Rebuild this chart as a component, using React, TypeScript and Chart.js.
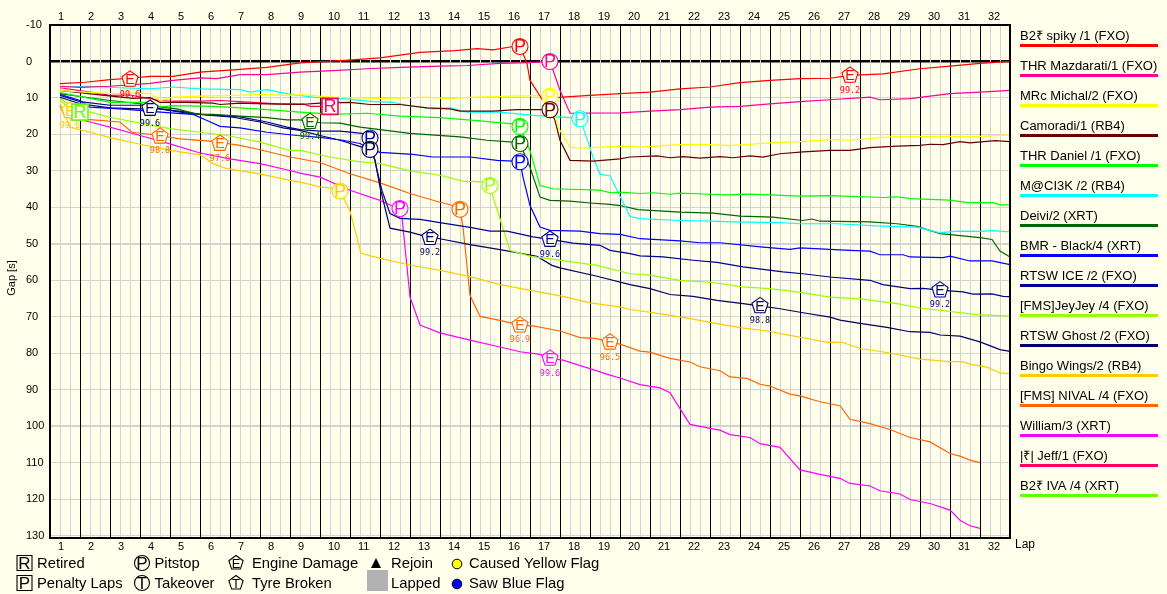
import React, { useEffect, useRef } from "react";
import Chart from "chart.js/auto";

type Pt = [number, number];

// x = race sector (three per lap, lap n ends at sector 3n), y = gap to leader [s]
const spiky: Pt[] = [[1,6.1],[3.5,5.7],[6,5],[8,4.6],[10,4.1],[12.3,4.1],[15,2.9],[18.3,2.3],[21.7,1.6],[25,0.4],[29.5,-0.3],[33,-1],[37,-2.5],[40.5,-3],[42.7,-3.5],[44.3,-3.2],[46.3,-4.1],[47,-4.1],[47.7,0.5],[48,5.2],[49.2,10.3],[51.2,9.8],[54,9.3],[57,8.8],[60,8.4],[63,7.5],[66,7],[69,5.8],[72,5.2],[75,4.7],[78,4.6],[80,3.8],[83.3,3.4],[87,2],[90,1.3],[93,0.5],[96,0]];
const mazdarati: Pt[] = [[1,6.8],[3,7.1],[6,6.8],[10,6],[12.3,5.2],[15,4.5],[16.7,4.7],[19,3.6],[21.7,3.6],[25,2.9],[28.3,2.5],[31.7,2],[35,1.6],[39,1.3],[41.7,1.1],[45,0.5],[48,0.3],[50,0],[51,7.9],[52,14.2],[57,14.1],[60,13.6],[63,13.2],[66,12.5],[69,12.3],[72,11.6],[75,11],[78,10.5],[82,9.8],[83,10.5],[86,10.2],[90,8.8],[93,8.4],[96,7.9]];
const michal: Pt[] = [[1,8],[6,8.8],[8.3,8.7],[10,8.8],[11,10.7],[12.3,9.8],[15,9.5],[18.3,9.3],[21.7,9],[23.3,9.3],[25,9.1],[28.3,9.8],[33,10.2],[37.7,9.8],[40,10.2],[42.3,9.8],[46.3,9.5],[50,9.3],[50.8,18],[52,23.5],[53,23.8],[55,23.5],[58,23.2],[59,23.5],[63,22.8],[66,22.8],[68,23.1],[72,22.3],[75,22],[78.3,21.4],[80,21.6],[84,20.7],[90,20.5],[92,20.7],[96,20.1]];
const camoradi: Pt[] = [[1,7.9],[4.5,9],[8.3,10.1],[10,9.9],[11,11.2],[13.7,11.2],[16.3,11.4],[17,11.8],[19,11.4],[21.7,11.6],[25,11.8],[27,11.4],[30,11.2],[32,11.8],[35,11.8],[37.7,12.7],[40,13],[41,13.6],[44.3,13.6],[46.7,13.2],[50,13.2],[50.5,16.2],[51,21.6],[52,27.1],[54.3,27.3],[57,26.7],[58,26.2],[60.7,25.9],[62,26.4],[63.3,26.1],[65,26.5],[67,26.1],[68.3,26.4],[70,25.9],[71.3,26.2],[73,25.3],[75.3,24.8],[78,24.4],[80,24.4],[82,23.6],[84.7,23.2],[87,23],[88,22.7],[89.3,22.8],[91,22],[92,22.3],[94.5,21.7],[96,22]];
const daniel: Pt[] = [[1,8.5],[6,11.2],[10,11.2],[11,12.5],[12.3,12.1],[16.3,12.3],[19,12.7],[21.7,13.2],[25,13.9],[28.3,14.5],[31.7,14.2],[35,15],[39,15.4],[42.7,16.2],[46.3,17.1],[47,17.8],[48,24.4],[49,34],[50.3,34.9],[55,35.3],[56,36],[57,35.8],[59,36.2],[60.3,36],[62,36.4],[63,36.1],[66,36.4],[67.7,36.6],[69.7,36.4],[72,36.6],[75,36.9],[78,36.8],[83.3,37.3],[84.7,37.1],[86,37.6],[90,38],[91.8,38.7],[94.3,38.7],[95,39.3],[96,39.3]];
const maci3k: Pt[] = [[1,7],[4,6.8],[7,7.2],[10,7.5],[12.3,7],[15,7.5],[19,7.7],[20,8.4],[21.7,7.7],[23.7,8.8],[25,9.3],[26.3,9.8],[29.3,10.2],[32.3,11],[34.3,11.2],[35.7,12],[38.3,13],[40,12.7],[41.7,13.9],[45,13.9],[48.3,14.8],[52,15.4],[53,15.6],[53.3,18],[54.3,26.2],[55,30.9],[56,31.4],[58,42.5],[59,43.1],[63,43.6],[66,43.8],[68.3,44],[73,44.2],[75,44.5],[78.7,44.5],[82.5,45.1],[86.7,45.4],[89,47],[90.7,46.5],[93,46.6],[94.2,46.4],[96,46.7]];
const deivi: Pt[] = [[1,8.8],[3,9.6],[6,10.7],[9,11.6],[11,12.5],[12.7,13],[14.7,14.5],[16.3,14.5],[19,15],[21.7,15.4],[23.7,16],[25,16],[26,16.5],[27,16.8],[29,16.9],[31,18],[33,18.7],[36,19.7],[41,20.7],[43.7,21.6],[46.3,22.1],[47,22.5],[48,29],[49,37.2],[50,38.1],[52,38.3],[54,38.8],[56,39.2],[57,39.5],[58.8,40.6],[63,41.3],[66.3,41.6],[69,42.4],[72.3,42.7],[75.3,43.6],[76.2,43.2],[77,43.8],[82,44],[84.7,44.5],[86.7,45.2],[89,47.2],[90,47.5],[93,48.3],[94.2,48.8],[95,52],[96,53.6]];
const bmrBlack: Pt[] = [[1,9],[3,10.7],[4,12.5],[7,13],[11.7,14],[14.3,14.5],[15.7,16.2],[17,17.8],[19,18.2],[21.7,19.4],[24.7,20.3],[27,20.8],[29.3,21.6],[31,22.5],[32,23.9],[33,24.9],[36.3,25.5],[38.3,26.2],[42,26.2],[44.7,27.1],[46.3,27.3],[47,27.5],[47.3,31.7],[48,39.5],[49,45.4],[50,46.3],[53,46.5],[55,47.2],[57,47.4],[59,48.6],[63,49.2],[65,49.7],[67,49.7],[71.3,50.9],[74,51.5],[75,51.1],[80,51.8],[82,52],[83,53],[85.3,53],[86,53.6],[89.3,53.8],[90,53.4],[92,54.7],[94.2,54.7],[96,55.7]];
const rtswIce: Pt[] = [[1,9.3],[3,11],[6,12],[9.3,12],[11,13],[14,14.3],[19,15.2],[21.7,16.6],[23.7,18],[25,18.7],[27,19.1],[29,19.1],[31.2,19.7],[32,21],[32.7,29.8],[33.2,35.4],[34,41.7],[35,43],[37,43.3],[39.3,44.3],[42,45.5],[44,46.5],[45.7,46.5],[48.3,48.1],[50,48.8],[52.3,49.8],[55,50.4],[56,51.8],[58,52.7],[59,53.3],[61.3,53.6],[64.3,54.5],[66.7,55.1],[69.3,56.3],[71.3,57],[73.3,57.7],[75.3,58.2],[78,59.1],[82,60],[83.3,61.2],[86,62.3],[87.3,62.2],[89,62.7],[91.3,63.2],[92.3,63.8],[94.2,63.7],[95.3,64.4],[96,64.5]];
const jeyJey: Pt[] = [[1,10.7],[2,12.9],[4,13.9],[6,15.3],[9,16.9],[12,18.4],[15,19.4],[17.7,20.3],[21,22.1],[24,24.4],[25,24.4],[28,26.2],[30.7,27.4],[33,28],[36,30],[39,31.2],[41.3,32.8],[43.3,33],[44,34],[44.2,36.2],[46,51.8],[48.3,53.6],[49.7,54],[54.7,55.9],[58,58.2],[60,58.6],[63,60],[66.3,60.6],[69.3,61.8],[72,62.3],[74.7,63.2],[78,64.6],[81,65.1],[84.7,66.4],[87,67.6],[92.7,69.4],[96,69.8]];
const rtswGhost: Pt[] = [[1,9.8],[3,11.6],[6,12.7],[9,13],[11,13],[13.7,13.9],[15,14.5],[18.3,15.3],[21,16.6],[23.3,18.2],[25,18.9],[27,20.3],[29,21.6],[31.2,23.5],[32,24.1],[32.5,27],[33,34.5],[34,45.7],[36,46.8],[38,48.3],[39,48.6],[42,50.2],[45,51.6],[48.7,53.4],[50.2,55.9],[51,56.6],[54.7,58.9],[58,61.2],[60,62.3],[62,63.9],[64.3,64.4],[66.7,65.5],[69.3,66.4],[71,67],[73,67.8],[75.3,68.9],[78,70.1],[79,70.9],[81,71.8],[83.7,72.9],[86,74.1],[88,74.3],[89,75],[91,75.3],[93,76.9],[95,79],[96,79.5]];
const bingoWings: Pt[] = [[1,11.5],[1.5,14.8],[2,18],[4,19.4],[6,20.9],[9,22.7],[12,24.4],[15,25.6],[16.3,28],[17.7,29.4],[21,30.8],[24,32.6],[25,33.1],[27,34.4],[28.7,34.9],[29,35.5],[30,41],[31.1,52.6],[33,54],[36,55.8],[39,57.3],[42,59],[45,61.2],[48.3,62.9],[51.3,64.4],[54,66.2],[57,67.3],[58,68],[61.3,69.3],[64,70.5],[67,72],[69,73],[71.7,73.9],[74,75.1],[76,76.1],[77.7,77],[79.2,77],[81,78.7],[83.7,79.8],[87,81.6],[90,82.3],[91.2,82.3],[92,83],[93.7,83.8],[95,85.4],[96,85.6]];
const nival: Pt[] = [[1,12],[1.5,15.3],[3.7,15.9],[7,16.6],[8.2,19.4],[11,20.3],[13,21.2],[16.3,21.9],[19,23],[21,24.2],[24,26.2],[27,27.7],[30,30.8],[33,33.3],[36,36.2],[39,38.6],[40.3,39.5],[41,40.5],[41.3,45.4],[42,64.1],[43,69.9],[45,71],[47,72.3],[48.3,72.5],[51,73.9],[53,75.7],[54.7,76],[56,77],[57,77.5],[59,79.4],[60,79.7],[62,81.4],[64,82.4],[65,83.7],[67,84.8],[68,86.5],[69.7,86.9],[71,88.5],[72,89],[74,91.2],[75,91.7],[77,93.3],[79,94.4],[80,98.1],[82,99.3],[84,100.9],[86,103.1],[88,104.3],[90,107.5],[91,108.2],[92,109.3],[93,110]];
const william: Pt[] = [[1,12.1],[2,15.3],[4,16.6],[6,18],[9,20.3],[12,22.6],[15,25.1],[18,26.7],[21,28],[24,29.9],[25,30.6],[27,31.7],[30,35.3],[33,38.1],[34.3,39.7],[35,40.4],[35.2,42.7],[36,64.6],[37,72.3],[39,74.4],[42,76.4],[45,78.3],[47,79.6],[49,80.3],[50,81.4],[51.3,81.9],[54,84.2],[56,86],[57,86.8],[59,88.6],[61,89.5],[62,90.8],[63,95.2],[64,99.5],[66,100.6],[67,101.1],[68,102.3],[70,103.1],[71,104.8],[73,105.8],[75,112],[77,113.2],[79,114.3],[80,115.7],[82,116.4],[83,117.7],[85,118.6],[86,120.1],[88,121.2],[90,123],[91,125.8],[92,127.3],[93,128]];
const jeff: Pt[] = [[1,7.2],[4,8.4],[6,9.3],[8,9.2],[11,10.7],[12.3,10.9],[15,10.9],[17,10.7],[20.3,11.2],[22.7,11.6],[25.3,11.6],[26,12.3],[28,12.3]];
const iva: Pt[] = [[1,10.1],[3,13.9]];

const gapTicks = [-10,0,10,20,30,40,50,60,70,80,90,100,110,120,130];

const driverNames = ["B2₹ spiky /1 (FXO)","THR Mazdarati/1 (FXO)","MRc Michal/2 (FXO)","Camoradi/1 (RB4)","THR Daniel /1 (FXO)","M@CI3K /2 (RB4)","Deivi/2 (XRT)","BMR - Black/4 (XRT)","RTSW ICE /2 (FXO)","[FMS]JeyJey /4 (FXO)","RTSW Ghost /2 (FXO)","Bingo Wings/2 (RB4)","[FMS] NIVAL /4 (FXO)","William/3 (XRT)","|₹| Jeff/1 (FXO)","B2₹ IVA /4 (XRT)"];
const driverColors = ["#FF0000","#FF0099","#FFFF00","#660000","#00FF00","#00FFFF","#006600","#0000FF","#000099","#99FF00","#000066","#FFCC00","#FF6600","#FF00FF","#FF0066","#66FF00"];
const driverPoints = [spiky,mazdarati,michal,camoradi,daniel,maci3k,deivi,bmrBlack,rtswIce,jeyJey,rtswGhost,bingoWings,nival,william,jeff,iva];

// [driver index, sector, gap]
const pitStops: [number, number, number][] = [[0,47,-4.1],[1,50,0],[2,50,9.5],[3,50,13.2],[4,47,17.8],[6,47,22.5],[7,47,27.5],[5,53,15.7],[9,44,34],[8,32,21],[10,32,24.1],[11,29,35.5],[13,35,40.3],[12,41,40.5]];
const retirements: [number, number, number][] = [[14,28,12.3],[15,3,13.9]];
// [driver index, sector, gap, engine state]
const engineDamage: [number, number, number, string][] = [[0,8,4.9,"99.6"],[10,10,12.9,"99.6"],[12,11,20.5,"98.8"],[12,17,22.5,"97.6"],[11,2,13.5,"99.6"],[6,26,16.5,"99.4"],[10,38,48.3,"99.2"],[8,50,48.8,"99.6"],[12,47,72.3,"96.9"],[12,56,77,"96.5"],[13,50,81.4,"99.6"],[10,71,67,"98.8"],[8,89,62.7,"99.2"],[0,80,3.8,"99.2"]];

const BG = "#FFFFEB";
const SANS = '"Liberation Sans", Arial, sans-serif';

function pentagon(ctx: CanvasRenderingContext2D, x: number, y: number, r: number) {
  ctx.beginPath();
  for (let i = 0; i < 5; i++) {
    const a = -Math.PI / 2 + (i * 2 * Math.PI) / 5;
    const px = x + r * Math.cos(a), py = y + r * Math.sin(a);
    if (i === 0) ctx.moveTo(px, py); else ctx.lineTo(px, py);
  }
  ctx.closePath();
}

function glyph(ctx: CanvasRenderingContext2D, kind: string, letter: string, x: number, y: number, color: string, size: number) {
  ctx.save();
  ctx.strokeStyle = color;
  ctx.fillStyle = BG;
  ctx.lineWidth = kind === "square" && size > 7.8 ? 1.6 : 1.1;
  if (kind === "circle") { ctx.beginPath(); ctx.arc(x, y, size, 0, Math.PI * 2); }
  else if (kind === "square") { ctx.beginPath(); ctx.rect(x - size, y - size, size * 2, size * 2); }
  else pentagon(ctx, x, y, size);
  ctx.fill();
  ctx.stroke();
  ctx.fillStyle = color;
  ctx.textAlign = "center";
  ctx.textBaseline = "middle";
  const factor = kind === "pentagon" ? 1.7 : 2.25;
  ctx.font = `${Math.round(size * factor)}px ${SANS}`;
  ctx.fillText(letter, x, y + 1);
  ctx.restore();
}

const overlay = {
  id: "overlay",
  afterDatasetsDraw(chart: any) {
    const ctx: CanvasRenderingContext2D = chart.ctx;
    const xs = chart.scales.x, ys = chart.scales.y;
    const { left, top, right, bottom } = chart.chartArea;
    ctx.save();
    ctx.strokeStyle = "#000";
    ctx.lineWidth = 2;
    ctx.strokeRect(left, top, right - left, bottom - top);

    engineDamage.forEach(([d, s, g, v]) => {
      const x = xs.getPixelForValue(s), y = ys.getPixelForValue(g);
      glyph(ctx, "pentagon", "E", x, y, driverColors[d], 8.5);
      ctx.fillStyle = driverColors[d];
      ctx.font = '8.5px "DejaVu Sans Mono", monospace';
      ctx.textAlign = "center";
      ctx.textBaseline = "middle";
      ctx.fillText(v, x, y + 15);
    });
    pitStops.forEach(([d, s, g]) => glyph(ctx, "circle", "P", xs.getPixelForValue(s), ys.getPixelForValue(g), driverColors[d], 8));
    retirements.forEach(([d, s, g]) => glyph(ctx, "square", "R", xs.getPixelForValue(s), ys.getPixelForValue(g), driverColors[d], 8));

    // driver legend on the right
    ctx.textAlign = "left";
    ctx.textBaseline = "middle";
    driverNames.forEach((name, i) => {
      const ly = 45 + i * 30;
      ctx.fillStyle = "#000";
      ctx.font = `13px ${SANS}`;
      ctx.fillText(name, 1020, ly - 9);
      ctx.fillStyle = driverColors[i];
      ctx.fillRect(1020, ly - 1, 138, 3);
    });

    // axis captions
    ctx.fillStyle = "#000";
    ctx.font = `12px ${SANS}`;
    ctx.fillText("Lap", 1015, 545);
    ctx.save();
    ctx.translate(12, 278);
    ctx.rotate(-Math.PI / 2);
    ctx.textAlign = "center";
    ctx.font = `11px ${SANS}`;
    ctx.fillText("Gap [s]", 0, 0);
    ctx.restore();

    // symbol legend at the bottom
    const row1 = 563, row2 = 583;
    glyph(ctx, "square", "R", 24.5, row1, "#000", 7.5);
    glyph(ctx, "square", "P", 24.5, row2, "#000", 7.5);
    glyph(ctx, "circle", "P", 142, row1, "#000", 7.5);
    glyph(ctx, "circle", "T", 142, row2, "#000", 7.5);
    glyph(ctx, "pentagon", "E", 236, row1, "#000", 7.5);
    glyph(ctx, "pentagon", "T", 236, row2, "#000", 7.5);
    ctx.fillStyle = "#000";
    ctx.beginPath();
    ctx.moveTo(376, row1 - 5); ctx.lineTo(381, row1 + 5); ctx.lineTo(371, row1 + 5); ctx.closePath(); ctx.fill();
    ctx.fillStyle = "#B2B2B2";
    ctx.fillRect(367, row2 - 13, 21, 21);
    ctx.strokeStyle = "#000";
    ctx.lineWidth = 1;
    ctx.fillStyle = "#FFFF00";
    ctx.beginPath(); ctx.arc(457, row1 + 1, 4.8, 0, Math.PI * 2); ctx.fill(); ctx.stroke();
    ctx.fillStyle = "#0000FF";
    ctx.beginPath(); ctx.arc(457, row2 + 1, 4.8, 0, Math.PI * 2); ctx.fill(); ctx.stroke();
    ctx.fillStyle = "#000";
    ctx.font = `14.8px ${SANS}`;
    ctx.textAlign = "left";
    const t1 = row1 + 1, t2 = row2 + 1;
    ctx.fillText("Retired", 37, t1);
    ctx.fillText("Penalty Laps", 37, t2);
    ctx.fillText("Pitstop", 154.5, t1);
    ctx.fillText("Takeover", 154.5, t2);
    ctx.fillText("Engine Damage", 252, t1);
    ctx.fillText("Tyre Broken", 252, t2);
    ctx.fillText("Rejoin", 391, t1);
    ctx.fillText("Lapped", 391, t2);
    ctx.fillText("Caused Yellow Flag", 469, t1);
    ctx.fillText("Saw Blue Flag", 469, t2);
    ctx.restore();
  },
};

const lapTick = (v: any) => ((v - 1) % 3 === 0 ? String((v - 1) / 3 + 1) : "");

export default function App() {
  const ref = useRef<HTMLCanvasElement>(null);
  useEffect(() => {
    const tickFont = { family: SANS, size: 11 };
    const chart = new Chart(ref.current as HTMLCanvasElement, {
      type: "scatter",
      data: {
        datasets: driverNames.map((name, i) => ({
          label: name,
          data: driverPoints[i].map(([x, y]) => ({ x, y })),
          borderColor: driverColors[i],
          backgroundColor: driverColors[i],
          borderWidth: 1.2,
          pointRadius: 0,
          showLine: true,
          tension: 0,
          clip: false,
        })),
      },
      options: {
        animation: false,
        responsive: false,
        layout: { autoPadding: false, padding: { left: 26, right: 157, top: 0, bottom: 0 } },
        plugins: { legend: { display: false }, tooltip: { enabled: false } },
        scales: {
          x: {
            type: "linear",
            position: "bottom",
            min: 0,
            max: 96,
            afterFit: (s: any) => { s.height = 56; },
            border: { display: false },
            grid: {
              z: -1,
              drawTicks: false,
              lineWidth: 1,
              color: (c: any) => (c.tick && c.tick.value % 3 === 0 ? "#000000" : "#D3D3D3"),
            },
            ticks: { stepSize: 1, autoSkip: false, maxRotation: 0, align: "start", labelOffset: -2, padding: 2, color: "#000", font: tickFont, callback: lapTick },
          },
          x2: {
            type: "linear",
            position: "top",
            min: 0,
            max: 96,
            afterFit: (s: any) => { s.height = 25; },
            border: { display: false },
            grid: { display: false, drawTicks: false },
            ticks: { stepSize: 1, autoSkip: false, maxRotation: 0, align: "start", labelOffset: -2, padding: 1, color: "#000", font: tickFont, callback: lapTick },
          },
          y: {
            type: "linear",
            position: "left",
            reverse: true,
            min: -10,
            max: 130.66,
            afterFit: (s: any) => { s.width = 24; },
            afterBuildTicks: (s: any) => { s.ticks = gapTicks.map((value) => ({ value })); },
            border: { display: false },
            grid: {
              z: -2,
              drawTicks: false,
              color: (c: any) => (c.tick && c.tick.value === 0 ? "#000000" : "#D3D3D3"),
              lineWidth: (c: any) => {
                const v = c.tick && c.tick.value;
                return v === 0 ? 2.5 : v === 50 || v === 100 ? 2 : 1;
              },
            },
            ticks: { autoSkip: false, crossAlign: "far", color: "#000", font: tickFont, padding: 0 },
          },
        },
      },
      plugins: [overlay],
    } as any);
    return () => chart.destroy();
  }, []);
  return (
    <div style={{ position: "fixed", left: 0, top: 0, width: 1167, height: 594, background: BG }}>
      <canvas ref={ref} width={1167} height={594} style={{ display: "block" }} />
    </div>
  );
}
